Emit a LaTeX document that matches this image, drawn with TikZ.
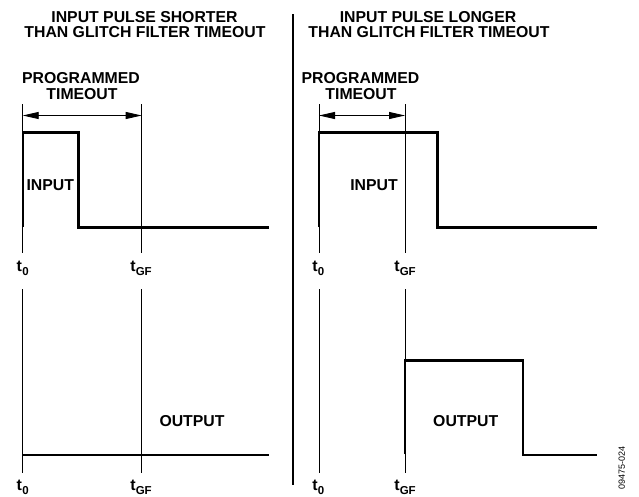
\documentclass[tikz,border=0pt]{standalone}
\usepackage{fontspec}
\setmainfont{Liberation Sans}
\usetikzlibrary{arrows.meta}
\newcommand{\tsub}[1]{t\kern0.2pt\raisebox{-4pt}{\fontsize{11.5}{12}\selectfont #1}}
\begin{document}
\begin{tikzpicture}[x=1pt,y=-1pt,
  lbl/.style={font=\fontsize{15.8}{16}\selectfont\bfseries, inner sep=0pt, anchor=base},
  tlbl/.style={font=\fontsize{16}{16}\selectfont\bfseries, inner sep=0pt, anchor=base},
  codelbl/.style={font=\fontsize{9}{9}\selectfont, inner sep=0pt, rotate=90},
  thin line/.style={line width=0.9pt, black},
  signal/.style={line width=2.4pt, black, line cap=butt, line join=miter},
  sepline/.style={line width=2.6pt, black},
  span/.style={line width=0.9pt, {Triangle[length=16pt,width=7pt]}-{Triangle[length=16pt,width=7pt]}}
]
\useasboundingbox (0,0) rectangle (639,496);

% ---------------- titles ----------------
\node[lbl] (tl1) at (144.5,22) {INPUT PULSE SHORTER};
\node[lbl] (tl2) at (145,37.7) {THAN GLITCH FILTER TIMEOUT};
\node[lbl] (tr1) at (428,22) {INPUT PULSE LONGER};
\node[lbl] (tr2) at (429,37.7) {THAN GLITCH FILTER TIMEOUT};

\node[lbl] (pl1) at (81,83.3) {PROGRAMMED};
\node[lbl] (pl2) at (82,99) {TIMEOUT};
\node[lbl] (pr1) at (360.5,83.3) {PROGRAMMED};
\node[lbl] (pr2) at (361,99) {TIMEOUT};

% ---------------- separator ----------------
\coordinate (sepT) at (293,14);
\coordinate (sepB) at (293,485);
\draw[sepline] (sepT) -- (sepB);

% ---------------- time markers ----------------
% left panel
\coordinate (L0a) at (22.7,104);  \coordinate (L0b) at (22.7,253);
\coordinate (L0c) at (22.7,289);  \coordinate (L0d) at (22.7,473);
\coordinate (LGa) at (141.7,104); \coordinate (LGb) at (141.7,253);
\coordinate (LGc) at (141.7,289); \coordinate (LGd) at (141.7,473);
% right panel
\coordinate (R0a) at (319,104);  \coordinate (R0b) at (319,253);
\coordinate (R0c) at (319,289);  \coordinate (R0d) at (319,473);
\coordinate (RGa) at (405,104);  \coordinate (RGb) at (405,253);
\coordinate (RGc) at (405,289);  \coordinate (RGd) at (405,473);

\draw[thin line] (L0a) -- (L0b) (L0c) -- (L0d);
\draw[thin line] (LGa) -- (LGb) (LGc) -- (LGd);
\draw[thin line] (R0a) -- (R0b) (R0c) -- (R0d);
\draw[thin line] (RGa) -- (RGb) (RGc) -- (RGd);

\node[tlbl] (lt0a) at (22.7,271.8) {\tsub{0}};
\node[tlbl] (ltga) at (141,271.8) {\tsub{GF}};
\node[tlbl] (lt0b) at (22.7,490.5) {\tsub{0}};
\node[tlbl] (ltgb) at (141,490.5) {\tsub{GF}};
\node[tlbl] (rt0a) at (318.3,271.8) {\tsub{0}};
\node[tlbl] (rtga) at (405,271.8) {\tsub{GF}};
\node[tlbl] (rt0b) at (318.3,490.5) {\tsub{0}};
\node[tlbl] (rtgb) at (405,490.5) {\tsub{GF}};

% ---------------- programmed timeout spans ----------------
\coordinate (LspA) at (22.7,115.5);
\coordinate (LspB) at (141.7,115.5);
\coordinate (RspA) at (319,115.5);
\coordinate (RspB) at (405,115.5);
\draw[span] (LspA) -- (LspB);
\draw[span] (RspA) -- (RspB);

% ---------------- input signals ----------------
\draw[signal] (22.7,227) -- (22.7,132.5) -- (78.5,132.5) -- (78.5,227.5) -- (268.7,227.5);
\draw[signal] (319,227) -- (319,132.5) -- (437.3,132.5) -- (437.3,227.5) -- (596.7,227.5);
\node[lbl] (inL) at (50.3,190.7) {INPUT};
\node[lbl] (inR) at (374,190.7) {INPUT};

% ---------------- output signals ----------------
\draw[signal] (22.7,455) -- (268.7,455);
\draw[signal] (405,454) -- (405,360.5) -- (522.7,360.5) -- (522.7,455) -- (596.7,455);
\node[lbl] (outL) at (192,426.7) {OUTPUT};
\node[lbl] (outR) at (465.7,426.7) {OUTPUT};

% ---------------- figure code ----------------
\node[codelbl] (code) at (621.7,468) {09475-024};
\end{tikzpicture}
\end{document}
